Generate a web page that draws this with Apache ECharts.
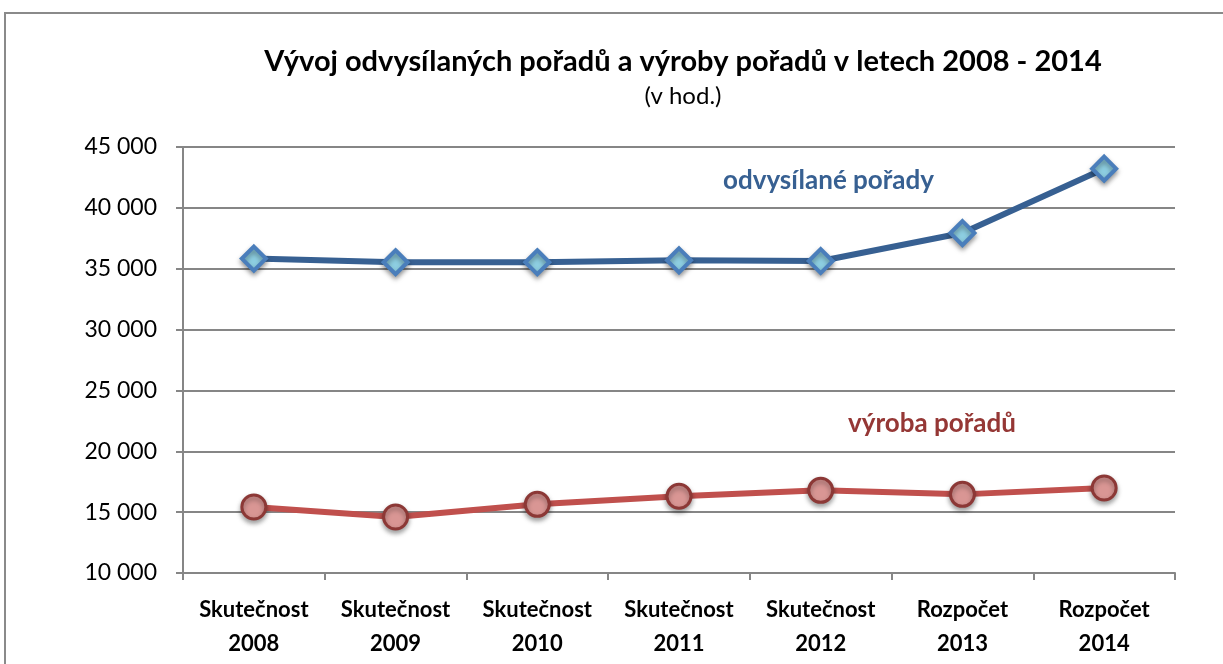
<!DOCTYPE html>
<html>
<head>
<meta charset="utf-8">
<script src="https://cdn.jsdelivr.net/npm/echarts@6/dist/echarts.min.js"></script>
<style>
  html, body { margin: 0; padding: 0; background: #fff; }
  #chart { width: 1223px; height: 664px; }
</style>
</head>
<body>
<div id="chart"></div>
<script>
var categories = [
  "Skutečnost\n2008", "Skutečnost\n2009", "Skutečnost\n2010", "Skutečnost\n2011",
  "Skutečnost\n2012", "Rozpočet\n2013", "Rozpočet\n2014"
];
var odvysilane = [35830, 35530, 35530, 35690, 35630, 37930, 43220];
var vyroba = [15420, 14600, 15640, 16300, 16790, 16460, 16980];

var fontFamily = "Lato, 'Open Sans', sans-serif";

var myChart = echarts.init(document.getElementById("chart"));

var option = {
  backgroundColor: "#fff",
  animation: false,
  title: {
    text: "Vývoj odvysílaných pořadů a výroby pořadů v letech 2008 - 2014",
    subtext: "(v hod.)",
    left: 678,
    textAlign: "center",
    top: 42,
    itemGap: 8,
    textStyle: { fontFamily: fontFamily, fontWeight: "bold", fontSize: 29, color: "#000" },
    subtextStyle: { fontFamily: fontFamily, fontSize: 24, color: "#000" }
  },
  grid: { left: 183, right: 48, top: 147, bottom: 91 },
  xAxis: {
    type: "category",
    data: categories,
    boundaryGap: true,
    axisLine: { lineStyle: { color: "#868686", width: 2 } },
    axisTick: { show: true, interval: 0, length: 7, inside: false, lineStyle: { color: "#868686", width: 2 } },
    axisLabel: {
      interval: 0,
      hideOverlap: false,
      margin: 20,
      fontFamily: fontFamily,
      fontWeight: "bold",
      fontSize: 22,
      lineHeight: 34,
      color: "#000"
    }
  },
  yAxis: {
    type: "value",
    min: 10000,
    max: 45000,
    interval: 5000,
    axisLine: { show: true, lineStyle: { color: "#868686", width: 2 } },
    axisTick: { show: true, length: 7, lineStyle: { color: "#868686", width: 2 } },
    splitLine: { lineStyle: { color: "#868686", width: 2 } },
    axisLabel: {
      margin: 26,
      fontFamily: fontFamily,
      fontSize: 23,
      color: "#000",
      formatter: function (v) {
        return String(v).replace(/\B(?=(\d{3})+(?!\d))/g, " ");
      }
    }
  },
  series: [
    {
      name: "odvysílané pořady",
      type: "line",
      data: odvysilane,
      symbol: "diamond",
      symbolSize: 24,
      lineStyle: { color: "#376092", width: 6 },
      itemStyle: {
        color: "#8ecfe2",
        borderColor: "#4a7ebb",
        borderWidth: 4,
        shadowColor: "rgba(0,0,0,0.35)",
        shadowBlur: 5,
        shadowOffsetY: 3
      },
      z: 3
    },
    {
      name: "výroba pořadů",
      type: "line",
      data: vyroba,
      symbol: "circle",
      symbolSize: 24,
      lineStyle: { color: "#c0504d", width: 6 },
      itemStyle: {
        color: "#d99694",
        borderColor: "#8c3836",
        borderWidth: 3,
        shadowColor: "rgba(0,0,0,0.35)",
        shadowBlur: 5,
        shadowOffsetY: 3
      },
      z: 3
    }
  ],
  graphic: [
    {
      type: "rect",
      shape: { x: 5, y: 13, width: 1400, height: 800 },
      style: { fill: "none", stroke: "#8a8a8a", lineWidth: 2 },
      silent: true,
      z: -1
    },
    {
      type: "text",
      left: 723,
      top: 168,
      style: {
        text: "odvysílané pořady",
        fill: "#376092",
        font: "bold 26px " + fontFamily
      }
    },
    {
      type: "text",
      left: 848,
      top: 411,
      style: {
        text: "výroba pořadů",
        fill: "#953735",
        font: "bold 26px " + fontFamily
      }
    }
  ]
};

myChart.setOption(option);
</script>
</body>
</html>
